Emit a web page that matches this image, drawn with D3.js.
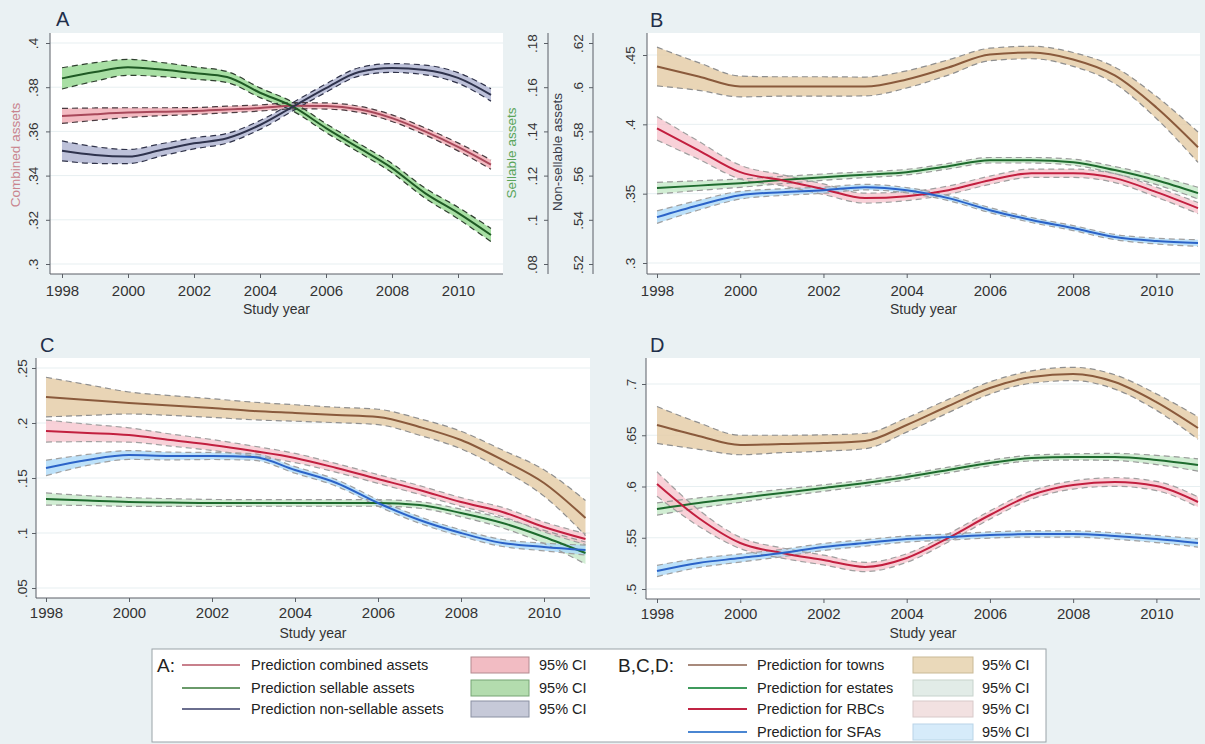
<!DOCTYPE html>
<html>
<head>
<meta charset="utf-8">
<script src="https://cdn.jsdelivr.net/npm/d3@7"></script>
<style>
  body { margin: 0; background: #eaf1f3; }
  svg { display: block; font-family: "Liberation Sans", Arial, sans-serif; }
</style>
</head>
<body>
<svg id="chart"></svg>
<script>
// ---- data ----
var years = [1998, 1999, 2000, 2001, 2002, 2003, 2004, 2005, 2006, 2007, 2008, 2009, 2010, 2011];
var xTicks = [1998, 2000, 2002, 2004, 2006, 2008, 2010];

// panel A
var aCombined     = [.367, .3678, .3685, .3689, .3692, .3699, .3706, .3716, .3715, .370, .366, .360, .353, .345];
var aCombinedCI   = [.0034, .0028, .0022, .0018, .0016, .0015, .0014, .0014, .0014, .0014, .0015, .0016, .0018, .0021];
var aSellable     = [.164, .1669, .169, .168, .1664, .1646, .1575, .1512, .1415, .1325, .1234, .1121, .1031, .0931];
var aSellableCI   = [.0048, .0042, .0036, .0032, .0028, .0025, .0022, .0020, .0020, .0020, .0021, .0023, .0026, .0030];
var aNonSellable  = [.5712, .5693, .5686, .5716, .5746, .5769, .5829, .5912, .5996, .6069, .6087, .6078, .6042, .5965];
var aNonSellCI    = [.0045, .0038, .0032, .0028, .0025, .0022, .0020, .0019, .0019, .0019, .0020, .0022, .0024, .0028];
var aLeftTicks    = [.3, .32, .34, .36, .38, .4];
var aSellTicks    = [.08, .1, .12, .14, .16, .18];
var aNonSellTicks = [.52, .54, .56, .58, .6, .62];

// panel B
var bTowns     = [.4417, .4345, .4273, .4273, .4273, .4273, .4324, .441, .4504, .4518, .4468, .4353, .4122, .3835];
var bTownsCI   = [.014, .010, .0075, .007, .007, .0068, .0062, .0055, .0045, .0045, .005, .006, .008, .011];
var bEstates   = [.354, .3558, .3576, .3598, .3619, .3637, .3655, .3698, .3741, .3741, .3727, .367, .3597, .3504];
var bEstatesCI = [.0042, .0035, .003, .0026, .0023, .0021, .002, .002, .002, .002, .0022, .0026, .0032, .0042];
var bRBC       = [.3971, .3813, .3655, .3597, .3532, .3468, .3482, .3525, .3597, .3647, .3647, .3612, .3511, .3396];
var bRBCCI     = [.0085, .0065, .005, .004, .0038, .0036, .0032, .003, .003, .003, .003, .0032, .0036, .004];
var bSFA       = [.3331, .3417, .3489, .3511, .3525, .3547, .3525, .3468, .3381, .331, .3252, .3187, .3158, .3144];
var bSFACI     = [.0045, .0035, .0028, .0024, .0022, .002, .0019, .0018, .0018, .0018, .0018, .0019, .0021, .0024];
var bTicks     = [.3, .35, .4, .45];

// panel C
var cTowns     = [.2236, .2209, .2182, .2159, .2136, .2109, .2091, .2073, .2055, .1964, .1845, .1664, .1455, .1136];
var cTownsCI   = [.018, .014, .010, .009, .0085, .008, .0075, .007, .007, .0075, .008, .009, .012, .016];
var cEstates   = [.1309, .1295, .1282, .1277, .1273, .1273, .1273, .1273, .1273, .1255, .1182, .1091, .0964, .0818];
var cEstatesCI = [.0055, .0045, .004, .0035, .0032, .003, .003, .003, .003, .003, .0035, .0045, .006, .010];
var cRBC       = [.1927, .191, .1891, .1845, .18, .1745, .1682, .1591, .1491, .1391, .1282, .1191, .1055, .0945];
var cRBCCI     = [.010, .008, .0065, .0055, .005, .0045, .0042, .004, .004, .004, .004, .0042, .0045, .005];
var cSFA       = [.1591, .1664, .1709, .170, .170, .1691, .1573, .1455, .1273, .1118, .100, .0909, .0873, .0845];
var cSFACI     = [.007, .005, .004, .0035, .0032, .003, .003, .003, .003, .003, .003, .0032, .0035, .0045];
var cTicks     = [.05, .1, .15, .2, .25];

// panel D
var dTowns     = [.66, .6493, .6405, .6415, .6424, .6444, .66, .6785, .6961, .7068, .7098, .702, .6824, .6571];
var dTownsCI   = [.018, .013, .0095, .0085, .008, .0075, .007, .0065, .006, .006, .0065, .007, .008, .011];
var dEstates   = [.578, .5839, .5888, .5937, .5985, .6034, .6093, .6161, .6229, .6278, .6288, .6288, .6259, .621];
var dEstatesCI = [.006, .005, .0042, .0036, .0032, .003, .0028, .0028, .0028, .0028, .003, .0035, .0045, .006];
var dRBC       = [.6024, .5693, .5449, .5351, .5283, .5215, .5302, .5498, .5722, .5917, .6015, .6044, .6005, .5849];
var dRBCCI     = [.012, .008, .0055, .005, .0048, .0045, .0042, .004, .004, .004, .004, .0042, .0045, .005];
var dSFA       = [.5176, .5254, .5302, .5351, .541, .5449, .5488, .5507, .5527, .5537, .5537, .5517, .5488, .5449];
var dSFACI     = [.0055, .0045, .004, .0036, .0034, .0032, .003, .003, .003, .003, .003, .0032, .0035, .004];
var dTicks     = [.5, .55, .6, .65, .7];

// legend text
var legendA = ["Prediction combined assets", "Prediction sellable assets", "Prediction non-sellable assets"];
var legendB = ["Prediction for towns", "Prediction for estates", "Prediction for RBCs", "Prediction for SFAs"];

// ---- styles ----
var styA = [
  { line: "#a8485a", fill: "#f0aab3", dash: "#4a3b40" },
  { line: "#1f5a24", fill: "#92d78d", dash: "#2f3f2f" },
  { line: "#2f334d", fill: "#adb2cf", dash: "#30334a" }
];
var styB = [
  { line: "#8a5a3c", fill: "#e3cba4", dash: "#8f8f8f" },
  { line: "#1e6b2e", fill: "#c6e8c8", dash: "#9a9a9a" },
  { line: "#c21f3f", fill: "#f6c6ce", dash: "#a0a0a0" },
  { line: "#2b63c8", fill: "#acd9f7", dash: "#a0a0a0" }
];
var legLineA = ["#c8808c", "#6a9a6a", "#6a6e8e"];
var legBoxA = [["#f2bcc3", "#b38a90"], ["#b3dcae", "#76a474"], ["#c6c9d8", "#8a90a2"]];
var legLineB = ["#a88a7c", "#3f9a5c", "#c02444", "#4a86d2"];
var legBoxB = [["#ead9ba", "#c9b996"], ["#e2ece7", "#c7d3cc"], ["#f2e1e1", "#d8c9c9"], ["#d6ebfa", "#b9d4e7"]];

var W = 1205, H = 744;
var svg = d3.select("#chart").attr("width", W).attr("height", H);
svg.append("rect").attr("width", W).attr("height", H).attr("fill", "#eaf1f3");

var fmt = function (d) { return d3.format(".2~f")(d).replace(/^0/, ""); };

function yAxis(g, y, ticks, xpos, labOff) {
  var ax = g.append("g").attr("transform", "translate(" + xpos + ",0)")
    .call(d3.axisLeft(y).tickValues(ticks).tickSize(4).tickSizeOuter(0).tickFormat(fmt));
  ax.select(".domain").remove();
  ax.selectAll(".tick line").attr("stroke", "#5a5f66");
  ax.selectAll(".tick text")
    .attr("x", 0).attr("dy", "0.35em")
    .attr("transform", "translate(" + labOff + ",0) rotate(-90)")
    .attr("text-anchor", "middle")
    .attr("font-size", 13.5).attr("fill", "#333")
    .attr("font-family", "Liberation Sans, Arial, sans-serif");
  return ax;
}

function panel(p) {
  var g = svg.append("g");
  var x = d3.scaleLinear().domain([1998, 2011]).range(p.xr);
  // plot region
  g.append("rect").attr("x", p.left).attr("y", p.top)
    .attr("width", p.right - p.left).attr("height", p.bottom - p.top).attr("fill", "#ffffff");
  var y = d3.scaleLinear().domain([p.ticks[0], p.ticks[p.ticks.length - 1]]).range(p.yr);
  g.append("g").selectAll("line").data(p.ticks).enter().append("line")
    .attr("x1", p.left).attr("x2", p.right)
    .attr("y1", function (d) { return y(d); }).attr("y2", function (d) { return y(d); })
    .attr("stroke", "#e7eff1").attr("stroke-width", 1);

  var areas = g.append("g"), bounds = g.append("g"), lines = g.append("g");
  p.series.forEach(function (s) {
    var ys = s.scale || y;
    var lo = s.v.map(function (v, i) { return v - s.w[i]; });
    var hi = s.v.map(function (v, i) { return v + s.w[i]; });
    var area = d3.area().curve(d3.curveMonotoneX)
      .x(function (d, i) { return x(years[i]); })
      .y0(function (d, i) { return ys(lo[i]); })
      .y1(function (d, i) { return ys(hi[i]); });
    var ln = d3.line().curve(d3.curveMonotoneX)
      .x(function (d, i) { return x(years[i]); })
      .y(function (d) { return ys(d); });
    areas.append("path").attr("d", area(years)).attr("fill", s.sty.fill).attr("fill-opacity", 0.8);
    [lo, hi].forEach(function (b) {
      bounds.append("path").attr("d", ln(b)).attr("fill", "none")
        .attr("stroke", s.sty.dash).attr("stroke-width", 1.2).attr("stroke-dasharray", "6,4");
    });
    lines.append("path").attr("d", ln(s.v)).attr("fill", "none")
      .attr("stroke", s.sty.line).attr("stroke-width", 2);
  });

  // axes
  g.append("line").attr("x1", p.left).attr("x2", p.left).attr("y1", p.top).attr("y2", p.bottom)
    .attr("stroke", "#5a5f66");
  g.append("line").attr("x1", p.left).attr("x2", p.right).attr("y1", p.bottom).attr("y2", p.bottom)
    .attr("stroke", "#5a5f66");
  yAxis(g, y, p.ticks, p.left, p.labOff);

  var xa = g.append("g").attr("transform", "translate(0," + p.bottom + ")")
    .call(d3.axisBottom(x).tickValues(xTicks).tickSize(4).tickSizeOuter(0).tickFormat(d3.format("d")));
  xa.select(".domain").remove();
  xa.selectAll(".tick line").attr("stroke", "#5a5f66");
  xa.selectAll(".tick text").attr("y", p.xLabY).attr("font-size", 15).attr("fill", "#333")
    .attr("font-family", "Liberation Sans, Arial, sans-serif");

  g.append("text").attr("x", (p.left + p.right) / 2).attr("y", p.titleY)
    .attr("text-anchor", "middle").attr("font-size", 14).attr("fill", "#333").text("Study year");
  g.append("text").attr("x", p.letter[0]).attr("y", p.letter[1])
    .attr("font-size", 20).attr("fill", "#1f2f4a").text(p.letter[2]);
  return { g: g, x: x, y: y };
}

// panel A with three y axes
var ySell = d3.scaleLinear().domain([.08, .18]).range([264, 43]);
var yNon = d3.scaleLinear().domain([.52, .62]).range([264, 43]);
var pa = panel({
  left: 50, right: 503, top: 33, bottom: 274, xr: [62, 491], yr: [264, 43],
  ticks: aLeftTicks, labOff: -17, xLabY: 11, titleY: 314, letter: [56, 26, "A"],
  series: [
    { v: aCombined, w: aCombinedCI, sty: styA[0] },
    { v: aSellable, w: aSellableCI, sty: styA[1], scale: ySell },
    { v: aNonSellable, w: aNonSellCI, sty: styA[2], scale: yNon }
  ]
});
pa.g.append("text").attr("transform", "translate(20,155) rotate(-90)").attr("text-anchor", "middle")
  .attr("font-size", 13.5).attr("fill", "#c9848e").text("Combined assets");
pa.g.append("line").attr("x1", 548).attr("x2", 548).attr("y1", 33).attr("y2", 274).attr("stroke", "#5a5f66");
yAxis(pa.g, ySell, aSellTicks, 548, -16);
pa.g.append("text").attr("transform", "translate(516,153) rotate(-90)").attr("text-anchor", "middle")
  .attr("font-size", 13.5).attr("fill", "#5aa55a").text("Sellable assets");
pa.g.append("line").attr("x1", 593).attr("x2", 593).attr("y1", 33).attr("y2", 274).attr("stroke", "#5a5f66");
yAxis(pa.g, yNon, aNonSellTicks, 593, -15);
pa.g.append("text").attr("transform", "translate(562,152) rotate(-90)").attr("text-anchor", "middle")
  .attr("font-size", 13.5).attr("fill", "#3a3d4a").text("Non-sellable assets");

panel({
  left: 647, right: 1200, top: 33, bottom: 274, xr: [657, 1198], yr: [263, 55],
  ticks: bTicks, labOff: -17, xLabY: 11, titleY: 314, letter: [650, 27, "B"],
  series: [
    { v: bTowns, w: bTownsCI, sty: styB[0] },
    { v: bEstates, w: bEstatesCI, sty: styB[1] },
    { v: bRBC, w: bRBCCI, sty: styB[2] },
    { v: bSFA, w: bSFACI, sty: styB[3] }
  ]
});

panel({
  left: 36, right: 590, top: 358, bottom: 598, xr: [46, 585.5], yr: [588, 368],
  ticks: cTicks, labOff: -14, xLabY: 9, titleY: 638, letter: [40, 352, "C"],
  series: [
    { v: cTowns, w: cTownsCI, sty: styB[0] },
    { v: cEstates, w: cEstatesCI, sty: styB[1] },
    { v: cRBC, w: cRBCCI, sty: styB[2] },
    { v: cSFA, w: cSFACI, sty: styB[3] }
  ]
});

panel({
  left: 646, right: 1200, top: 358, bottom: 599, xr: [657, 1198], yr: [589, 384],
  ticks: dTicks, labOff: -15, xLabY: 9, titleY: 638, letter: [650, 352, "D"],
  series: [
    { v: dTowns, w: dTownsCI, sty: styB[0] },
    { v: dEstates, w: dEstatesCI, sty: styB[1] },
    { v: dRBC, w: dRBCCI, sty: styB[2] },
    { v: dSFA, w: dSFACI, sty: styB[3] }
  ]
});

// ---- legend ----
var leg = svg.append("g");
leg.append("rect").attr("x", 152).attr("y", 649).attr("width", 894).attr("height", 93)
  .attr("fill", "#ffffff").attr("stroke", "#9aa3a8");
var rowY = [665, 688, 709, 732];
leg.append("text").attr("x", 157).attr("y", rowY[0] + 7).attr("font-size", 19).attr("fill", "#222").text("A:");
legendA.forEach(function (t, i) {
  leg.append("line").attr("x1", 182).attr("x2", 240).attr("y1", rowY[i]).attr("y2", rowY[i])
    .attr("stroke", legLineA[i]).attr("stroke-width", 2);
  leg.append("text").attr("x", 251).attr("y", rowY[i] + 5).attr("font-size", 14.5).attr("fill", "#222").text(t);
  leg.append("rect").attr("x", 471).attr("y", rowY[i] - 8).attr("width", 58).attr("height", 16)
    .attr("fill", legBoxA[i][0]).attr("stroke", legBoxA[i][1]);
  leg.append("text").attr("x", 539).attr("y", rowY[i] + 5).attr("font-size", 14.5).attr("fill", "#222").text("95% CI");
});
leg.append("text").attr("x", 618).attr("y", rowY[0] + 7).attr("font-size", 19).attr("fill", "#222").text("B,C,D:");
legendB.forEach(function (t, i) {
  leg.append("line").attr("x1", 688).attr("x2", 747).attr("y1", rowY[i]).attr("y2", rowY[i])
    .attr("stroke", legLineB[i]).attr("stroke-width", 2);
  leg.append("text").attr("x", 757).attr("y", rowY[i] + 5).attr("font-size", 14.5).attr("fill", "#222").text(t);
  leg.append("rect").attr("x", 913).attr("y", rowY[i] - 8).attr("width", 60).attr("height", 16)
    .attr("fill", legBoxB[i][0]).attr("stroke", legBoxB[i][1]);
  leg.append("text").attr("x", 982).attr("y", rowY[i] + 5).attr("font-size", 14.5).attr("fill", "#222").text("95% CI");
});
</script>
</body>
</html>
